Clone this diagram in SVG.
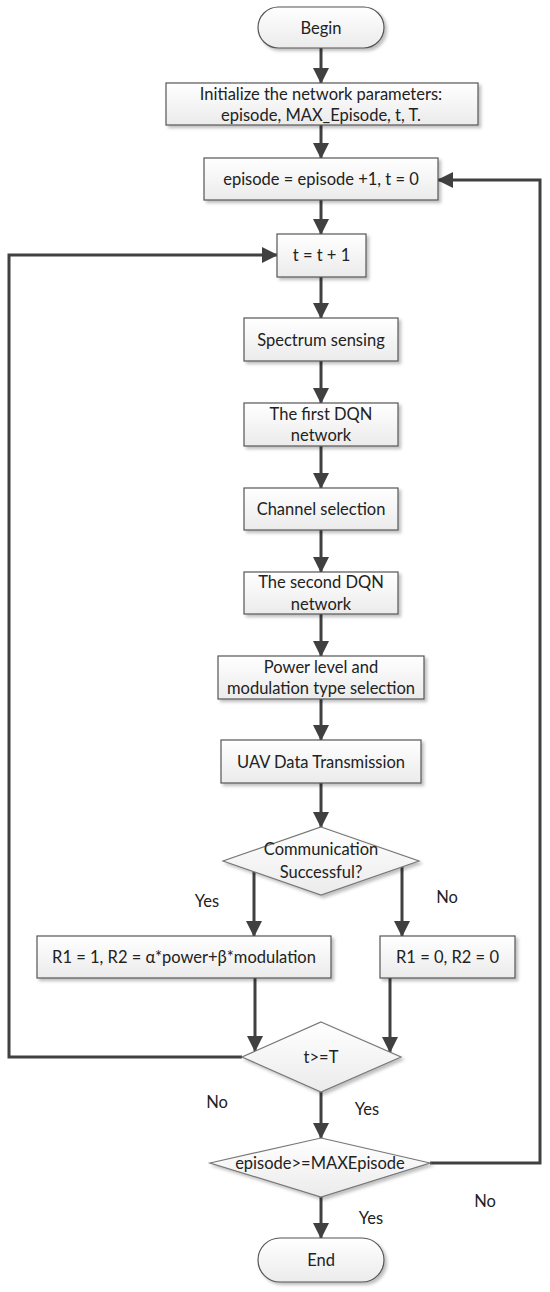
<svg xmlns="http://www.w3.org/2000/svg" width="550" height="1292" viewBox="0 0 550 1292">
<style>
.box{fill:url(#g);stroke:#555;stroke-width:1.2;filter:url(#sh)}
.dia{fill:url(#g);stroke:#777;stroke-width:1.2;filter:url(#sh)}
.t{font-family:Lato,"Open Sans",sans-serif;font-size:16.5px;fill:#222;text-anchor:middle;dominant-baseline:central}
.lbl{font-family:Lato,"Open Sans",sans-serif;font-size:16.5px;fill:#222;text-anchor:middle;dominant-baseline:central}
.c{fill:none;stroke:#404040;stroke-width:3;marker-end:url(#ah)}
</style>
<defs>
<linearGradient id="g" x1="0" y1="0" x2="0" y2="1">
<stop offset="0" stop-color="#ffffff"/>
<stop offset="1" stop-color="#ebebeb"/>
</linearGradient>
<filter id="sh" x="-10%" y="-20%" width="125%" height="150%">
<feDropShadow dx="2.5" dy="2.5" stdDeviation="1.5" flood-color="#000" flood-opacity="0.25"/>
</filter>
<marker id="ah" markerUnits="userSpaceOnUse" markerWidth="16" markerHeight="16" viewBox="0 0 16 16" refX="15" refY="8" orient="auto">
<path d="M0,0 L16,8 L0,16 z" fill="#404040"/>
</marker>
</defs>
<rect width="550" height="1292" fill="#fff"/>

<g id="connectors">
<line class="c" x1="321" y1="48" x2="321" y2="83"/>
<line class="c" x1="321" y1="125" x2="321" y2="158"/>
<line class="c" x1="321" y1="200" x2="321" y2="234"/>
<line class="c" x1="321" y1="277" x2="321" y2="318"/>
<line class="c" x1="321" y1="361" x2="321" y2="403"/>
<line class="c" x1="321" y1="446" x2="321" y2="488"/>
<line class="c" x1="321" y1="530" x2="321" y2="572"/>
<line class="c" x1="321" y1="614" x2="321" y2="656"/>
<line class="c" x1="321" y1="699" x2="321" y2="740"/>
<line class="c" x1="321" y1="783" x2="321" y2="827"/>
<line class="c" x1="254" y1="872" x2="254" y2="936"/>
<line class="c" x1="402" y1="867" x2="402" y2="936"/>
<line class="c" x1="255" y1="978" x2="255" y2="1051"/>
<line class="c" x1="390" y1="978" x2="390" y2="1052"/>
<polyline class="c" points="242,1057 9,1057 9,255 277,255"/>
<line class="c" x1="321" y1="1092" x2="321" y2="1138"/>
<polyline class="c" points="430,1163 540,1163 540,180 438,180"/>
<line class="c" x1="321" y1="1197" x2="321" y2="1238"/>
<text class="lbl" x="207" y="901">Yes</text>
<text class="lbl" x="447" y="897">No</text>
<text class="lbl" x="217" y="1102">No</text>
<text class="lbl" x="367" y="1109">Yes</text>
<text class="lbl" x="485" y="1201">No</text>
<text class="lbl" x="371" y="1218">Yes</text>
</g>

<g id="begin"><rect class="box" x="258" y="7" width="126" height="41" rx="20.5"/><text class="t" x="321" y="27.5">Begin</text></g>
<g id="init"><rect class="box" x="166" y="83" width="312" height="42"/><text class="t" x="321" y="94">Initialize the network parameters:</text><text class="t" x="321" y="115">episode, MAX_Episode, t, T.</text></g>
<g id="episode-inc"><rect class="box" x="204" y="158" width="234" height="42"/><text class="t" x="321" y="179">episode = episode +1, t = 0</text></g>
<g id="t-inc"><rect class="box" x="277" y="234" width="89" height="43"/><text class="t" x="321.5" y="255">t = t + 1</text></g>
<g id="spectrum"><rect class="box" x="244" y="318" width="154" height="43"/><text class="t" x="321" y="339.5">Spectrum sensing</text></g>
<g id="dqn1"><rect class="box" x="244" y="403" width="154" height="43"/><text class="t" x="321" y="413.5">The first DQN</text><text class="t" x="321" y="435">network</text></g>
<g id="channel"><rect class="box" x="244" y="488" width="154" height="42"/><text class="t" x="321" y="509">Channel selection</text></g>
<g id="dqn2"><rect class="box" x="244" y="572" width="154" height="42"/><text class="t" x="321" y="582">The second DQN</text><text class="t" x="321" y="603.5">network</text></g>
<g id="power"><rect class="box" x="218" y="656" width="206" height="43"/><text class="t" x="321" y="666.5">Power level and</text><text class="t" x="321" y="688">modulation type selection</text></g>
<g id="uav"><rect class="box" x="221" y="740" width="200" height="43"/><text class="t" x="321" y="761.5">UAV Data Transmission</text></g>
<g id="comm"><polygon class="dia" points="321,827 419,861 321,895 223,861"/><text class="t" x="321" y="849">Communication</text><text class="t" x="321" y="872">Successful?</text></g>
<g id="r-yes"><rect class="box" x="37" y="936" width="294" height="42"/><text class="t" x="184" y="957">R1 = 1, R2 = α*power+β*modulation</text></g>
<g id="r-no"><rect class="box" x="380" y="936" width="135" height="42"/><text class="t" x="447.5" y="957">R1 = 0, R2 = 0</text></g>
<g id="t-check"><polygon class="dia" points="321,1022 401,1057 321,1092 242,1057"/><text class="t" x="321" y="1057">t&gt;=T</text></g>
<g id="ep-check"><polygon class="dia" points="321,1138 430,1163 321,1197 210,1163"/><text class="t" x="320" y="1163">episode&gt;=MAXEpisode</text></g>
<g id="end"><rect class="box" x="258" y="1238" width="126" height="44" rx="22"/><text class="t" x="321" y="1260">End</text></g>
</svg>
